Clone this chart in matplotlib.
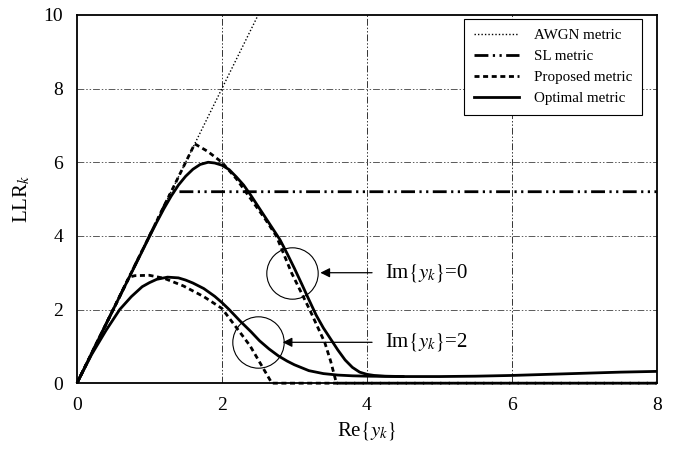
import matplotlib
matplotlib.use("Agg")
import matplotlib.pyplot as plt

plt.rcParams['font.family'] = ['Liberation Serif', 'DejaVu Serif']
plt.rcParams['mathtext.fontset'] = 'stix'

# AWGN metric (straight line)
awgn_x = [0, 2.5]
awgn_y = [0, 10]

# SL metric (clipped)
sl_x = [0, 1.3, 8]
sl_y = [0, 5.2, 5.2]

# Proposed metric, Im{y_k}=0
prop0_x = [0, 1.625, 1.8, 2.0, 2.2, 2.4, 2.6, 2.75, 2.96, 3.21, 3.42, 3.5, 3.58, 8]
prop0_y = [0, 6.5, 6.3, 6.0, 5.55, 5.0, 4.45, 4.0, 3.0, 2.0, 1.1, 0.6, 0.0, 0.0]

# Optimal metric, Im{y_k}=0
opt0_x = [0, 0.5, 1.0, 1.1, 1.2, 1.3, 1.4, 1.5, 1.6, 1.7, 1.81, 1.9, 2.0,
          2.1, 2.2, 2.3, 2.4, 2.5, 2.6, 2.7, 2.8, 2.9, 3.0, 3.1, 3.2, 3.3,
          3.4, 3.5, 3.6, 3.7, 3.8, 3.9, 4.0, 4.1, 4.25, 4.5, 5.0, 5.5, 6.0,
          6.5, 7.0, 7.5, 8.0]
opt0_y = [0, 2.0, 3.98, 4.37, 4.74, 5.08, 5.38, 5.62, 5.81, 5.94, 6.0, 5.98, 5.92,
          5.8, 5.6, 5.38, 5.1, 4.8, 4.5, 4.2, 3.9, 3.52, 3.12, 2.7, 2.27, 1.85,
          1.5, 1.2, 0.9, 0.63, 0.43, 0.3, 0.24, 0.21, 0.19, 0.18, 0.18, 0.19, 0.21,
          0.24, 0.27, 0.3, 0.32]

# Proposed metric, Im{y_k}=2
prop2_x = [0, 0.72, 0.8, 1.0, 1.2, 1.47, 1.75, 2.0, 2.25, 2.39, 2.5, 2.66, 2.69, 8]
prop2_y = [0, 2.88, 2.92, 2.93, 2.85, 2.64, 2.35, 2.03, 1.38, 1.01, 0.64, 0.1, 0.0, 0.0]

# Optimal metric, Im{y_k}=2
opt2_x = [0, 0.2, 0.4, 0.59, 0.75, 0.9, 1.0, 1.1, 1.25, 1.4, 1.5, 1.6, 1.75,
          1.9, 2.0, 2.1, 2.25, 2.4, 2.52, 2.65, 2.78, 2.9, 3.0, 3.2, 3.4,
          3.6, 3.8, 4.0, 4.5]
opt2_y = [0, 0.77, 1.43, 2.0, 2.35, 2.62, 2.73, 2.82, 2.88, 2.86, 2.8, 2.72, 2.57,
          2.36, 2.19, 2.0, 1.69, 1.4, 1.15, 0.93, 0.74, 0.6, 0.5, 0.34, 0.26,
          0.22, 0.2, 0.19, 0.18]

fig = plt.figure(figsize=(6.75, 4.54), dpi=100)
ax = fig.add_axes([0.114, 0.156, 0.859, 0.811])

grid_ls = (0, (7, 2, 1.5, 2, 1.5, 2))
for gx in [2, 4, 6]:
    ax.axvline(gx, color='0.2', lw=0.7, ls=grid_ls, zorder=0)
for gy in [2, 4, 6, 8]:
    ax.axhline(gy, color='0.35', lw=0.7, ls=grid_ls, zorder=0)

dash = (0, (1.8, 1.3))
ax.plot(awgn_x, awgn_y, color='k', lw=1.0, ls=(0, (1, 1.5)), label='AWGN metric')
ax.plot(sl_x, sl_y, color='k', lw=2.0, ls=(0, (5, 1.6, 0.8, 1.6, 0.8, 1.6)), label='SL metric')
ax.plot(prop0_x, prop0_y, color='k', lw=2.0, ls=dash, label='Proposed metric', clip_on=False)
ax.plot(opt0_x, opt0_y, color='k', lw=2.0, label='Optimal metric')
ax.plot(prop2_x, prop2_y, color='k', lw=2.0, ls=dash, clip_on=False)
ax.plot(opt2_x, opt2_y, color='k', lw=2.0)

# circles and arrows
ax.plot([2.97], [3.0], 'o', ms=37, mfc='none', mec='k', mew=0.8)
ax.plot([2.50], [1.11], 'o', ms=37, mfc='none', mec='k', mew=0.8)
ax.annotate('', xy=(3.32, 3.0), xytext=(4.11, 3.0),
            arrowprops=dict(arrowstyle='-|>', color='k', lw=0.9, mutation_scale=14))
ax.annotate('', xy=(2.80, 1.11), xytext=(4.11, 1.11),
            arrowprops=dict(arrowstyle='-|>', color='k', lw=0.9, mutation_scale=14))
ax.text(4.25, 3.0, r'Im$\{y_k\}$=0', fontsize=15, va='center', ha='left')
ax.text(4.25, 1.11, r'Im$\{y_k\}$=2', fontsize=15, va='center', ha='left')

ax.set_xlim(0, 8)
ax.set_ylim(0, 10)
ax.set_xticks([0, 2, 4, 6, 8])
ax.set_yticks([0, 2, 4, 6, 8, 10])
ax.tick_params(direction='in', length=0, pad=10, labelsize=14)
for s in ax.spines.values():
    s.set_linewidth(1.3)

ax.set_xlabel(r'Re$\{y_k\}$', fontsize=15, labelpad=4)
ax.set_ylabel(r'LLR$_k$', fontsize=15, labelpad=8)

leg = ax.legend(loc='upper right', bbox_to_anchor=(0.975, 0.99), borderaxespad=0,
                fontsize=10.8, handlelength=3.0, labelspacing=0.5, fancybox=False,
                edgecolor='k', framealpha=1, borderpad=0.65, handletextpad=1.0)
leg.get_frame().set_linewidth(0.8)

fig.savefig('out.png', dpi=100)
